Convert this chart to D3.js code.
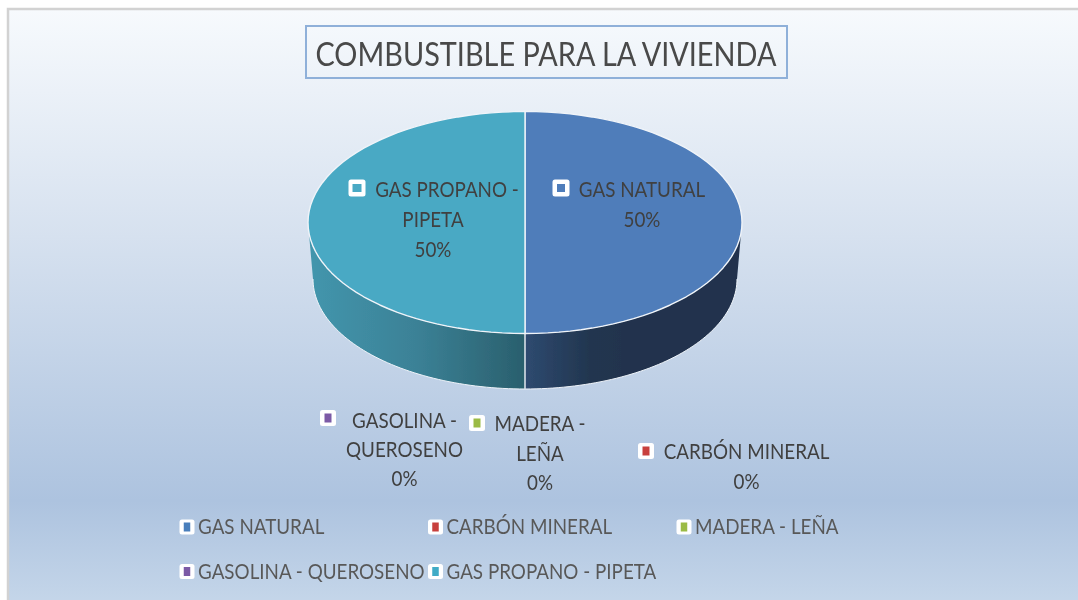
<!DOCTYPE html>
<html><head><meta charset="utf-8">
<script src="https://cdn.jsdelivr.net/npm/d3@7"></script>
<style>html,body{margin:0;padding:0;background:#fff;overflow:hidden}svg{display:block}
text{font-family:Lato,"Open Sans",sans-serif}</style></head><body>
<svg id="c" width="1078" height="600"></svg>
<script>
const titleText = "COMBUSTIBLE PARA LA VIVIENDA";
const categories = ["GAS NATURAL","CARBÓN MINERAL","MADERA - LEÑA","GASOLINA - QUEROSENO","GAS PROPANO - PIPETA"];
const values = [50,0,0,0,50];
const colors = ["#4f7dba","#c0504d","#9bbb59","#8064a2","#4aa9c4"];
const legendColors = ["#4a7ebb","#c8403e","#9bbb45","#7b5aa6","#3fabc6"];
const labelLines = [["GAS NATURAL"],["CARBÓN MINERAL"],["MADERA -","LEÑA"],["GASOLINA -","QUEROSENO"],["GAS PROPANO -","PIPETA"]];
const labelPercent = ["50%","0%","0%","0%","50%"];

const W=1078,H=600;
const svg=d3.select("#c");
const defs=svg.append("defs");
const bg=defs.append("linearGradient").attr("id","bg").attr("x1",0).attr("y1",0).attr("x2",0).attr("y2",1);
[[0,"#f7fafd"],[.38,"#d6e1ef"],[.82,"#adc3df"],[1,"#c6d7ea"]].forEach(s=>bg.append("stop").attr("offset",s[0]).attr("stop-color",s[1]));
const mkSide=(id,stops)=>{const g=defs.append("linearGradient").attr("id",id).attr("x1",0).attr("y1",0).attr("x2",1).attr("y2",0);
 stops.forEach(s=>g.append("stop").attr("offset",s[0]).attr("stop-color",s[1]));};
mkSide("sideR",[[0,"#2e4a70"],[.3,"#22364f"],[.45,"#20334e"],[1,"#20334e"]]);
mkSide("sideL",[[0,"#4396ad"],[.5,"#3b8196"],[1,"#2a5f6d"]]);
defs.append("filter").attr("id","soft").append("feGaussianBlur").attr("stdDeviation",0.6);

svg.append("rect").attr("x",8).attr("y",9).attr("width",W).attr("height",H).attr("fill","url(#bg)").attr("stroke","#d2d2d2").attr("stroke-width",2.5);

const root=svg.append("g").attr("filter","url(#soft)");
// condense a text element horizontally, keeping its font size
function squeeze(sel,factor){
  sel.attr("textLength",sel.node().getComputedTextLength()*factor).attr("lengthAdjust","spacingAndGlyphs");
  return sel;
}
// title
root.append("rect").attr("x",306).attr("y",26).attr("width",481).attr("height",52).attr("fill","none").attr("stroke","#8fb0d9").attr("stroke-width",2);
root.append("text").attr("x",546).attr("y",66).attr("text-anchor","middle").attr("font-size",33).attr("fill","#4a4a4a").attr("textLength",461).attr("lengthAdjust","spacingAndGlyphs").text(titleText);

// pie
const pie=d3.pie().sort(null).value(d=>d)(values);
const topE={cx:525,cy:222.5,rx:217,ry:111}, botE={cx:525,cy:279,rx:212,ry:110};
const pt=(e,a)=>[e.cx+e.rx*Math.sin(a),e.cy-e.ry*Math.cos(a)];
const lineGen=d3.line();
const sweep=(e,a0,a1)=>d3.range(0,61).map(i=>pt(e,a0+(a1-a0)*i/60));
pie.forEach((s,i)=>{
  if(s.endAngle-s.startAngle<=0)return;
  const right=i===0;
  const a0=right?Math.PI/2:Math.PI, a1=right?Math.PI:Math.PI*1.5;
  const p=[...sweep(topE,a0,a1),...sweep(botE,a1,a0)];
  root.append("path").attr("d",lineGen(p)+"Z").attr("fill",right?"url(#sideR)":"url(#sideL)").attr("stroke","none");
  root.append("path").attr("d",lineGen(sweep(botE,a0,a1))).attr("fill","none").attr("stroke","#eef3f9").attr("stroke-width",1);
});
root.append("path").attr("d",lineGen([pt(topE,Math.PI),pt(botE,Math.PI)])).attr("stroke","#d8dfe8").attr("stroke-width",1.6).attr("fill","none");
pie.forEach((s,i)=>{
  if(s.endAngle-s.startAngle<=0)return;
  const p=[[topE.cx,topE.cy],...sweep(topE,s.startAngle,s.endAngle)];
  root.append("path").attr("d",lineGen(p)+"Z").attr("fill",colors[i]).attr("stroke","#f0f4f9").attr("stroke-width",1.4).attr("stroke-linejoin","round");
});

// markers
function marker(g,x,y,o,inW,inH,c){
  g.append("rect").attr("x",x-o/2).attr("y",y-o/2).attr("width",o).attr("height",o).attr("rx",2.5).attr("fill","#fff");
  g.append("rect").attr("x",x-inW/2).attr("y",y-inH/2).attr("width",inW).attr("height",inH).attr("fill",c);
}
// data labels: layout per category
const labelLayout=[
 {mx:561,my:188,tx:642,ty:197,step:30,o:17,iw:8,ih:8},
 {mx:646,my:451,tx:746.5,ty:459,step:30,o:16,iw:7,ih:9},
 {mx:477,my:423,tx:540,ty:431,step:29.5,o:16,iw:7,ih:9},
 {mx:328,my:418,tx:404.5,ty:428,step:29,o:16,iw:7,ih:9},
 {mx:357,my:188,tx:447,ty:197,step:30,o:17,iw:9,ih:8}
];
const lblShift=[0,0,0,0,-14];
const narrow=0.875, fs=21.5;
categories.forEach((c,i)=>{
  const L=labelLayout[i];
  marker(root,L.mx,L.my,L.o,L.iw,L.ih,i===0||i===4?colors[i]:legendColors[i]);
  const t=root.append("g").attr("font-size",fs).attr("fill","#404040").attr("text-anchor","middle");
  const lines=[...labelLines[i],labelPercent[i]];
  lines.forEach((l,k)=>{
    const x=L.tx+(k>0?lblShift[i]:0);
    squeeze(t.append("text").attr("x",x).attr("y",L.ty+k*L.step).text(l),narrow);
  });
});

// legend
const colX=d3.scaleLinear().domain([0,1]).range([187,435.5]);
const rowY=d3.scaleLinear().domain([0,1]).range([527,571.5]);
const nCols=3;
categories.forEach((c,i)=>{
  const col=i%nCols,row=Math.floor(i/nCols);
  const x=colX(col),y=rowY(row);
  marker(root,x,y,15,6.5,9,legendColors[i]);
  squeeze(root.append("text").attr("x",x+11).attr("y",y+7).attr("font-size",fs).attr("fill","#595959").text(c),narrow);
});
</script></body></html>
